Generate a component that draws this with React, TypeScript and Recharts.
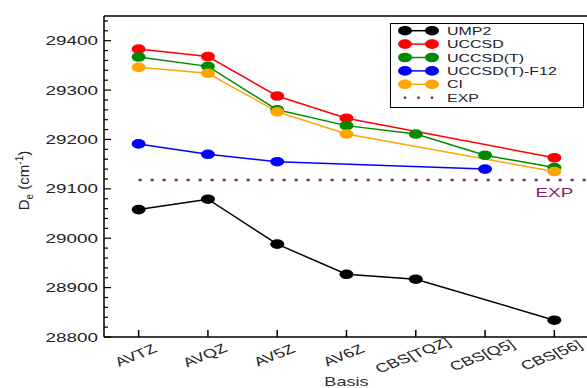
import { ComposedChart, Line, XAxis, YAxis, ReferenceLine, ReferenceDot, Legend } from 'recharts';

const basis = ['AVTZ', 'AVQZ', 'AV5Z', 'AV6Z', 'CBS[TQZ]', 'CBS[Q5]', 'CBS[56]'];
const ump2 = [29058, 29079, 28988, 28927, 28917, null, 28834];
const uccsd = [29383, 29368, 29288, 29243, null, null, 29163];
const uccsdT = [29367, 29348, 29260, 29228, 29211, 29168, 29143];
const f12 = [29191, 29170, 29155, null, null, 29140, null];
const ci = [29346, 29334, 29256, 29211, null, null, 29135];
const expValue = 29118;

const majorTicks = [28800, 28900, 29000, 29100, 29200, 29300, 29400];
const yTicks = majorTicks
  .flatMap((v) => [v, v + 20, v + 40, v + 60, v + 80])
  .filter((v) => v <= 29440);

const series = [
  { key: 'ump2', name: 'UMP2', color: '#000000' },
  { key: 'uccsd', name: 'UCCSD', color: '#ff0000' },
  { key: 'uccsdT', name: 'UCCSD(T)', color: '#008a00' },
  { key: 'f12', name: 'UCCSD(T)-F12', color: '#0000ff' },
  { key: 'ci', name: 'CI', color: '#ffa500' },
];
const expColor = '#7f1f6f';

const data = basis.map((b, i) => ({
  idx: i,
  basis: b,
  ump2: ump2[i],
  uccsd: uccsd[i],
  uccsdT: uccsdT[i],
  f12: f12[i],
  ci: ci[i],
}));

const FONT = '"Liberation Sans", Arial, sans-serif';
const SX = 1.45; // the reference is stretched horizontally

function YTick(props: any) {
  const { x, y, payload } = props;
  const major = payload.value % 100 === 0;
  return (
    <g>
      <line x1={x} x2={x + (major ? 7 : 4)} y1={y} y2={y} stroke="#000" strokeWidth={1.2} />
      {major && (
        <text transform={`translate(${x - 6},${y + 4.5}) scale(${SX},1)`} textAnchor="end"
          fontSize={13} fontFamily={FONT} fill="#222">
          {payload.value}
        </text>
      )}
    </g>
  );
}

function XTick(props: any) {
  const { x, y, payload } = props;
  return (
    <g>
      <line x1={x} x2={x} y1={y} y2={y - 7} stroke="#000" strokeWidth={1.5} />
      <text transform={`translate(${x},${y + 22}) scale(${SX},1) rotate(-30)`} textAnchor="middle"
        fontSize={12.5} fontFamily={FONT} fill="#222">
        {basis[payload.value]}
      </text>
    </g>
  );
}

function dotFor(color: string) {
  return (p: any) =>
    p.value == null || p.cx == null ? <g key={p.index} /> : (
      <ellipse key={p.index} cx={p.cx} cy={p.cy} rx={7} ry={4.8} fill={color} />
    );
}

function renderLegend() {
  const rowH = 13.4;
  return (
    <svg width={194} height={85} style={{ display: 'block' }}>
      <rect x={0.5} y={0.5} width={193} height={84} fill="#fff" stroke="#000" strokeWidth={1} />
      {series.map((s, i) => {
        const cy = 7.7 + i * rowH;
        return (
          <g key={s.key}>
            <line x1={15} x2={42} y1={cy} y2={cy} stroke={s.color} strokeWidth={1.5} />
            <ellipse cx={15} cy={cy} rx={7} ry={4.8} fill={s.color} />
            <ellipse cx={42} cy={cy} rx={7} ry={4.8} fill={s.color} />
            <text transform={`translate(57,${cy + 4}) scale(${SX},1)`} fontSize={11} fontFamily={FONT} fill="#222">
              {s.name}
            </text>
          </g>
        );
      })}
      <g>
        {[15, 28.5, 42].map((x) => (
          <rect key={x} x={x - 1.2} y={7.7 + 5 * rowH - 1.2} width={2.4} height={2.4} fill={expColor} />
        ))}
        <text transform={`translate(57,${7.7 + 5 * rowH + 4}) scale(${SX},1)`} fontSize={11} fontFamily={FONT} fill="#222">
          EXP
        </text>
      </g>
    </svg>
  );
}

export default function App() {
  return (
    <div style={{ position: 'absolute', left: 0, top: 0, width: 587, height: 388, overflow: 'hidden', background: '#fff' }}>
      <ComposedChart width={600} height={388} data={data} margin={{ top: 16, right: 11, bottom: 0, left: 0 }}>
        <XAxis dataKey="idx" type="number" domain={[-0.5, 6.5]} ticks={[0, 1, 2, 3, 4, 5, 6]} interval={0}
          allowDataOverflow height={51} tickSize={0} tickMargin={0} tick={<XTick />} tickLine={false}
          axisLine={{ stroke: '#000', strokeWidth: 1.5 }}
          label={{
            content: (p: any) => (
              <text transform={`translate(${p.viewBox.x + p.viewBox.width / 2},386) scale(${SX},1)`}
                textAnchor="middle" fontSize={12.5} fontFamily={FONT} fill="#333">
                Basis
              </text>
            ),
          }}
        />
        <YAxis type="number" domain={[28800, 29450]} ticks={yTicks} interval={0} allowDataOverflow width={104}
          tickSize={0} tickMargin={0} tick={<YTick />} tickLine={false}
          axisLine={{ stroke: '#000', strokeWidth: 1.5 }}
          label={{
            content: (p: any) => (
              <text transform={`translate(29,${p.viewBox.y + p.viewBox.height / 2 + 4}) rotate(-90)`}
                textAnchor="middle" fontSize={15} fontFamily={FONT} fill="#222">
                D<tspan fontSize={10} dy={4}>e</tspan>
                <tspan dy={-4}> (cm</tspan>
                <tspan fontSize={10} dy={-6}>-1</tspan>
                <tspan dy={6}>)</tspan>
              </text>
            ),
          }}
        />
        <ReferenceLine y={29450} stroke="#000" strokeWidth={1.5} />
        <ReferenceLine segment={[{ x: 0, y: expValue }, { x: 6.5, y: expValue }]} stroke={expColor}
          strokeWidth={2.5} strokeDasharray="3 9" />
        <ReferenceDot x={6} y={expValue} r={0} fill="none" stroke="none"
          label={{
            content: (p: any) => (
              <text transform={`translate(${p.viewBox.x},${p.viewBox.y + 17}) scale(${SX},1)`}
                textAnchor="middle" fontSize={13} fontFamily={FONT} fill={expColor}>
                EXP
              </text>
            ),
          }}
        />
        {series.map((s) => (
          <Line key={s.key} type="linear" dataKey={s.key} name={s.name} stroke={s.color} strokeWidth={1.5}
            connectNulls dot={dotFor(s.color)} activeDot={false} isAnimationActive={false} />
        ))}
        <Legend layout="horizontal" verticalAlign="middle" content={renderLegend}
          wrapperStyle={{ position: 'absolute', left: 390, top: 23, width: 194, height: 85 }} />
      </ComposedChart>
    </div>
  );
}
